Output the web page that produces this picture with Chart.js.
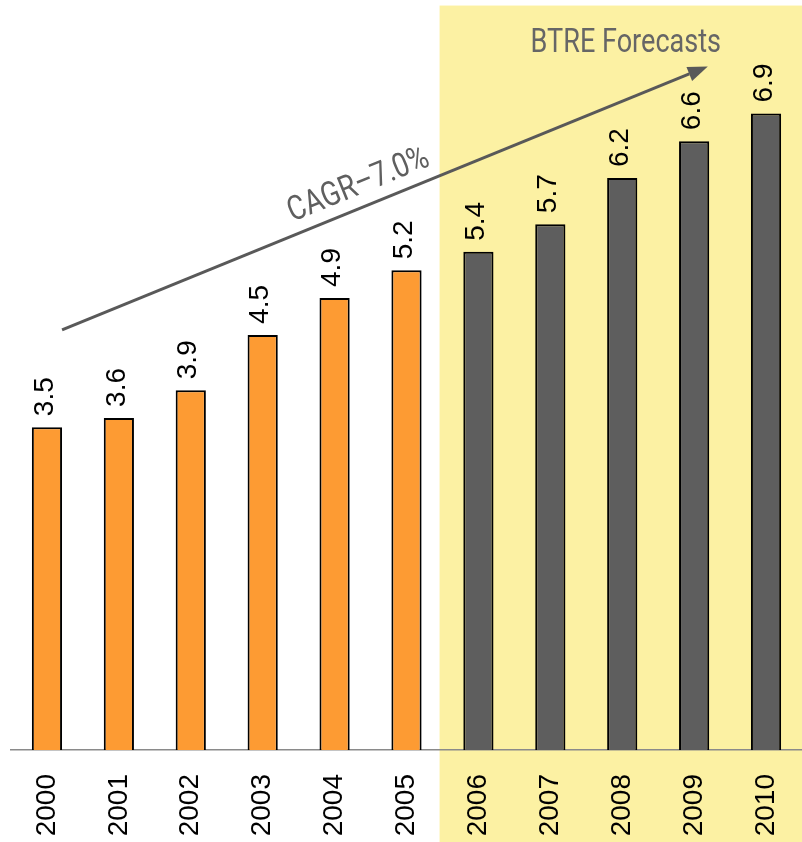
<!DOCTYPE html>
<html>
<head>
<meta charset="utf-8">
<script src="https://cdn.jsdelivr.net/npm/chart.js@4"></script>
<style>
	html, body { margin: 0; padding: 0; background: #ffffff; }
	#wrap { width: 802px; height: 842px; }
</style>
</head>
<body>
<div id="wrap"><canvas id="chart" width="802" height="842"></canvas></div>
<script>
// data
const years = ['2000', '2001', '2002', '2003', '2004', '2005', '2006', '2007', '2008', '2009', '2010'];
const actual = [3.5, 3.6, 3.9, 4.5, 4.9, 5.2, null, null, null, null, null];
const forecast = [null, null, null, null, null, null, 5.4, 5.7, 6.2, 6.6, 6.9];
const valueLabels = ['3.5', '3.6', '3.9', '4.5', '4.9', '5.2', '5.4', '5.7', '6.2', '6.6', '6.9'];

// annotations, in category index / value units
const forecastStart = 5.46;
const forecastTop = 8.07;
const trendFrom = [0.21, 4.555];
const trendTo = [9.19, 7.41];
const trendText = 'CAGR–7.0%';
const forecastText = 'BTRE Forecasts';
const forecastTextPos = [8.05, 7.66];

const labelFont = '28px "Liberation Sans", Arial, sans-serif';

const backdrop = {
	id: 'backdrop',
	beforeDraw(chart) {
		const ctx = chart.ctx;
		const x = chart.scales.x, y = chart.scales.y;
		const left = x.getPixelForValue(forecastStart);
		const top = y.getPixelForValue(forecastTop);
		ctx.save();
		ctx.fillStyle = '#fcf1a3';
		ctx.fillRect(left, top, chart.width - left, chart.height - top);
		ctx.restore();
	}
};

const annotations = {
	id: 'annotations',
	afterDatasetsDraw(chart) {
		const ctx = chart.ctx;
		const x = chart.scales.x, y = chart.scales.y;

		// value labels, rotated
		ctx.save();
		ctx.font = labelFont;
		ctx.fillStyle = '#000000';
		ctx.textAlign = 'left';
		ctx.textBaseline = 'middle';
		chart.data.datasets.forEach((ds, di) => {
			const meta = chart.getDatasetMeta(di);
			meta.data.forEach((bar, i) => {
				if (ds.data[i] == null) return;
				ctx.save();
				ctx.translate(bar.x - 2, bar.y - 11);
				ctx.rotate(-Math.PI / 2);
				ctx.fillText(valueLabels[i], 0, 0);
				ctx.restore();
			});
		});
		ctx.restore();

		// trend arrow
		const x0 = x.getPixelForValue(trendFrom[0]), y0 = y.getPixelForValue(trendFrom[1]);
		const x1 = x.getPixelForValue(trendTo[0]), y1 = y.getPixelForValue(trendTo[1]);
		const ang = Math.atan2(y1 - y0, x1 - x0);
		const head = 20, half = 7.5;
		ctx.save();
		ctx.strokeStyle = '#595959';
		ctx.fillStyle = '#595959';
		ctx.lineWidth = 3;
		ctx.beginPath();
		ctx.moveTo(x0, y0);
		ctx.lineTo(x1 - head * Math.cos(ang), y1 - head * Math.sin(ang));
		ctx.stroke();
		ctx.translate(x1, y1);
		ctx.rotate(ang);
		ctx.beginPath();
		ctx.moveTo(0, 0);
		ctx.lineTo(-head, -half);
		ctx.lineTo(-head, half);
		ctx.closePath();
		ctx.fill();
		ctx.restore();

		// trend text along the arrow
		const t = 0.472;
		ctx.save();
		ctx.translate(x0 + (x1 - x0) * t, y0 + (y1 - y0) * t);
		ctx.rotate(ang);
		ctx.scale(0.82, 1);
		ctx.font = '34px Roboto, sans-serif';
		ctx.fillStyle = '#5f5f5f';
		ctx.textAlign = 'center';
		ctx.textBaseline = 'alphabetic';
		ctx.fillText(trendText, 0, -13);
		ctx.restore();

		// forecast heading
		ctx.save();
		ctx.translate(x.getPixelForValue(forecastTextPos[0]), y.getPixelForValue(forecastTextPos[1]));
		ctx.scale(0.82, 1);
		ctx.font = '33px Roboto, sans-serif';
		ctx.fillStyle = '#666666';
		ctx.textAlign = 'center';
		ctx.textBaseline = 'middle';
		ctx.fillText(forecastText, 0, 0);
		ctx.restore();
	}
};

new Chart(document.getElementById('chart'), {
	type: 'bar',
	data: {
		labels: years,
		datasets: [
		{
			label: 'Actual',
			data: actual,
			backgroundColor: '#fd9b33',
			borderColor: '#000000',
			borderWidth: 2,
			barPercentage: 0.42,
			categoryPercentage: 1,
			skipNull: true
		},
		{
			label: 'Forecast',
			data: forecast,
			backgroundColor: '#5e5e5e',
			borderColor: '#000000',
			borderWidth: 2,
			barPercentage: 0.42,
			categoryPercentage: 1,
			skipNull: true
		},
	]
	},
	options: {
		responsive: false,
		animation: false,
		grouped: false,
		layout: { padding: { left: 11, right: 0, top: 12, bottom: 0 } },
		plugins: {
			legend: { display: false },
			tooltip: { enabled: false },
			title: { display: false }
		},
		scales: {
			x: {
				grid: { display: false, drawTicks: false },
				border: { display: true, color: '#8a8a8a', width: 1.5 },
				ticks: {
					minRotation: 90,
					maxRotation: 90,
					padding: 24,
					color: '#000000',
					font: { family: '"Liberation Sans", Arial, sans-serif', size: 28 }
				},
				afterFit(scale) {
					scale.height = 92;
					scale.paddingLeft = 0;
					scale.paddingRight = 0;
				}
			},
			y: {
				display: false,
				min: 0,
				max: 8,
				afterFit(scale) { scale.width = 0; }
			}
		}
	},
	plugins: [backdrop, annotations]
});
</script>
</body>
</html>
